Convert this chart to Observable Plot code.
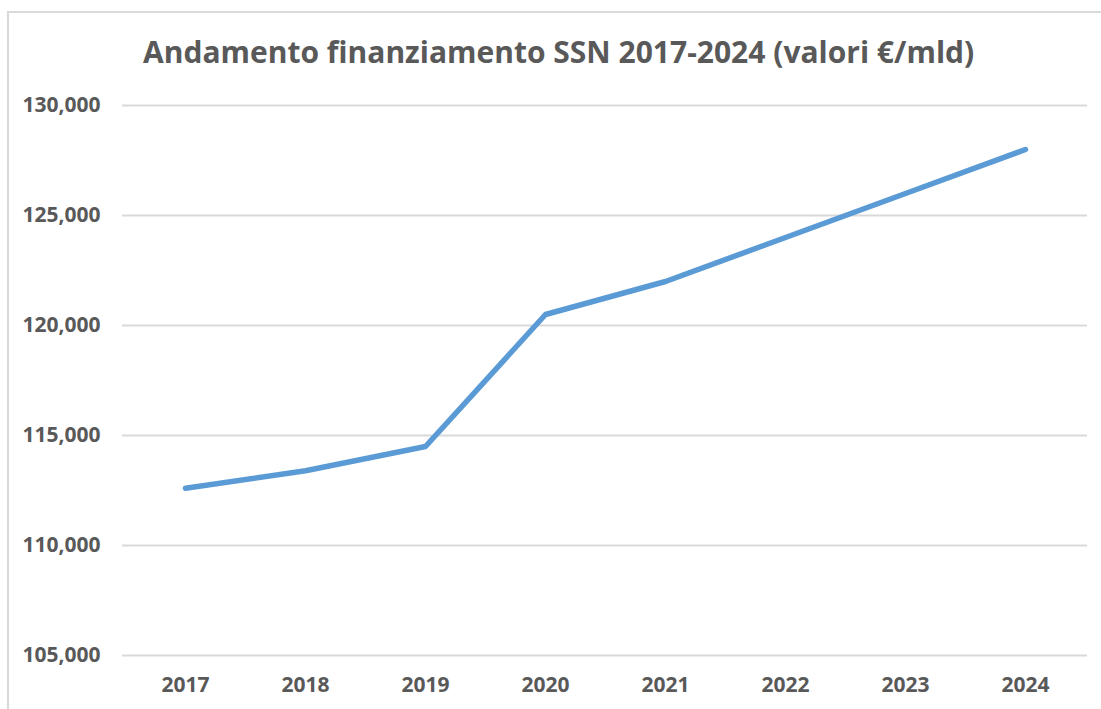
<!DOCTYPE html>
<html>
<head>
<meta charset="utf-8">
<script src="https://cdn.jsdelivr.net/npm/d3@7"></script>
<script src="https://cdn.jsdelivr.net/npm/@observablehq/plot@0.6"></script>
<style>
  html, body { margin: 0; padding: 0; background: #fff; }
  body { width: 1101px; height: 709px; position: relative; overflow: hidden; font-family: "Open Sans", sans-serif; }
  #frame { position: absolute; left: 7px; top: 11px; width: 1200px; height: 800px; border-left: 2px solid #d9d9d9; border-top: 2px solid #d9d9d9; }
  #title { position: absolute; left: 0; top: 0; width: 1101px; height: 80px; }
  #title div { position: absolute; left: 143px; top: 37px; font-weight: 700; color: #595959; white-space: nowrap; line-height: 1; }
  #chart { position: absolute; left: 0; top: 80px; }
</style>
</head>
<body>
<div id="frame"></div>
<div id="title"><div id="t">Andamento finanziamento SSN 2017-2024 (valori €/mld)</div></div>
<div id="chart"></div>
<script>
const years = ["2017", "2018", "2019", "2020", "2021", "2022", "2023", "2024"];
const values = [112600, 113400, 114500, 120500, 122000, 124000, 126000, 128000];
const yTicks = [105000, 110000, 115000, 120000, 125000, 130000];
const titleText = "Andamento finanziamento SSN 2017-2024 (valori €/mld)";

const data = years.map((y, i) => ({year: y, value: values[i]}));

// fit title width to ~835px
const t = document.getElementById("t");
t.textContent = titleText;
const ctx = document.createElement("canvas").getContext("2d");
ctx.font = "700 100px 'Open Sans'";
const w100 = ctx.measureText(titleText).width;
const fs = Math.min(30, 835 / w100 * 100);
t.style.fontSize = fs + "px";

const chart = Plot.plot({
  width: 1101,
  height: 629,
  marginLeft: 122,
  marginRight: 14,
  marginTop: 25,
  marginBottom: 54,
  style: { fontFamily: "Open Sans", fontSize: "21px", fontWeight: 700, color: "#595959", background: "transparent" },
  x: { type: "point", domain: years, padding: 0.5, label: null },
  y: { domain: [105000, 130000], ticks: yTicks, label: null },
  marks: [
    Plot.gridY(yTicks, { stroke: "#d9d9d9", strokeOpacity: 1, strokeWidth: 2 }),
    Plot.axisY({ ticks: yTicks, tickSize: 0, tickPadding: 22, tickFormat: d3.format(","), label: null, fill: "#595959", fontSize: 21 }),
    Plot.axisX({ tickSize: 0, tickPadding: 22, label: null, fill: "#595959", fontSize: 21 }),
    Plot.line(data, { x: "year", y: "value", stroke: "#5b9bd5", strokeWidth: 5.5, strokeLinecap: "round", strokeLinejoin: "round" })
  ]
});
document.getElementById("chart").appendChild(chart);
</script>
</body>
</html>
